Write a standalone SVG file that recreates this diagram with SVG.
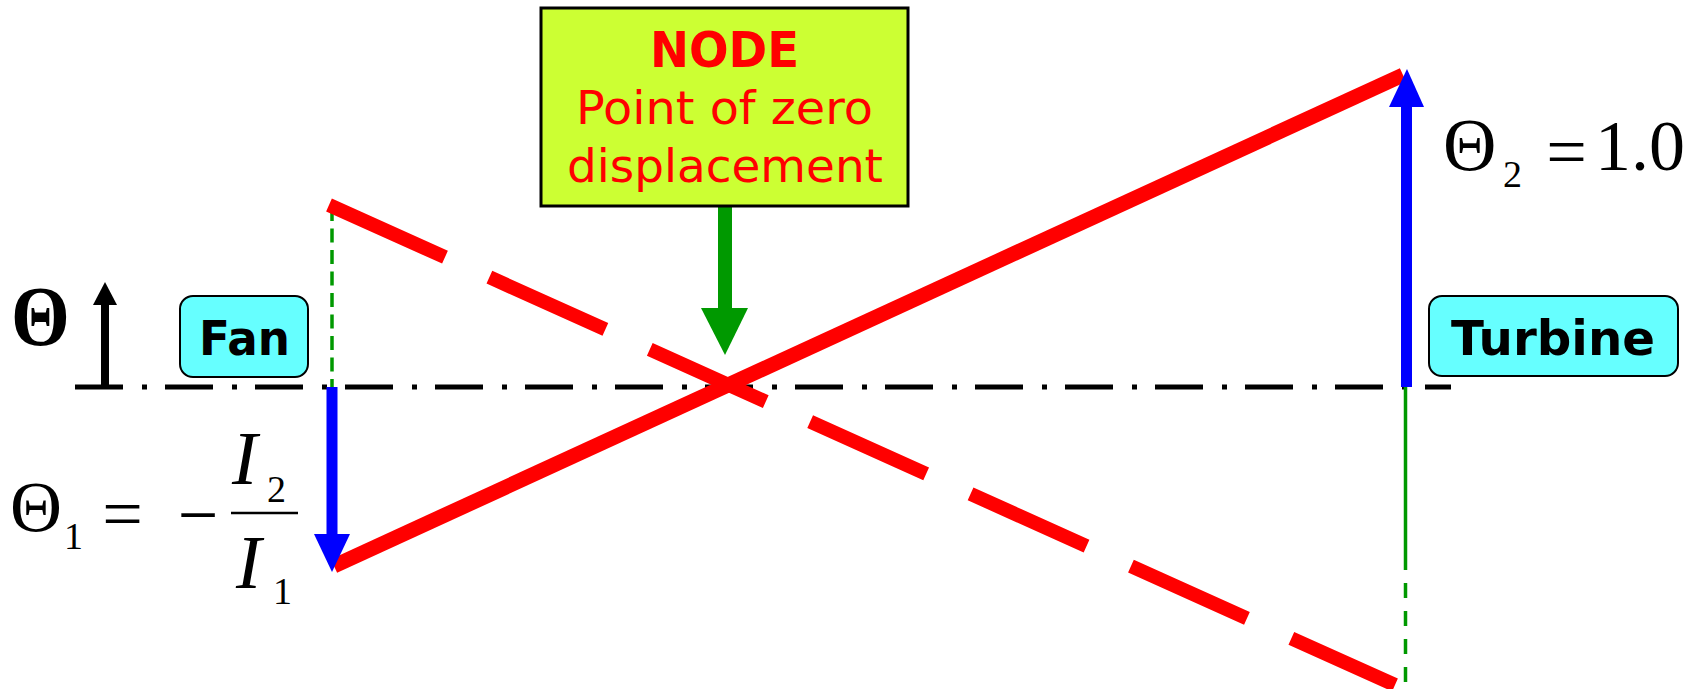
<svg xmlns="http://www.w3.org/2000/svg" width="1698" height="689" viewBox="0 0 1698 689">
  <style>
    .sans { font-family: "DejaVu Sans", Verdana, sans-serif; }
    .serif { font-family: "Liberation Serif", "Times New Roman", serif; fill: #000; }
    .label { font-weight: bold; font-size: 48px; fill: #000; }
    .tag { fill: #66ffff; stroke: #000; stroke-width: 2; }
    .red { stroke: #ff0000; fill: none; stroke-linecap: butt; }
    .guide { stroke: #009900; stroke-width: 3.5; fill: none; }
  </style>

  <rect width="1698" height="689" fill="#fff"/>

  <g id="connectors">
    <!-- shaft axis (dash-dot centre line) -->
    <line x1="75" y1="387" x2="1451" y2="387" stroke="#000" stroke-width="5" stroke-dasharray="48 19 5 18"/>

    <!-- vertical projection guides -->
    <line class="guide" x1="332" y1="207" x2="332" y2="387" stroke-dasharray="14 7.5"/>
    <line class="guide" x1="1405.5" y1="387" x2="1405.5" y2="570"/>
    <line class="guide" x1="1405.5" y1="583" x2="1405.5" y2="684" stroke-dasharray="15 13"/>

    <!-- mode shape lines -->
    <line class="red" x1="334" y1="566" x2="1403" y2="75" stroke-width="15"/>
    <line class="red" x1="329" y1="205" x2="1395" y2="685" stroke-width="14" stroke-dasharray="127.2 48.7"/>

    <!-- theta direction arrow -->
    <g id="theta-arrow" fill="#000">
      <rect x="101" y="303" width="8" height="84"/>
      <polygon points="93,305 117,305 105,282"/>
    </g>

    <!-- fan twist (down) -->
    <g id="fan-arrow" fill="#0000ff">
      <rect x="326.5" y="387" width="11" height="149"/>
      <polygon points="314,534 350,534 332,572"/>
    </g>

    <!-- turbine twist (up) -->
    <g id="turbine-arrow" fill="#0000ff">
      <rect x="1401" y="105" width="11" height="282"/>
      <polygon points="1389,107 1424,107 1407,69"/>
    </g>

    <!-- pointer to the node -->
    <g id="node-arrow" fill="#009900">
      <rect x="718" y="206" width="14" height="104"/>
      <polygon points="701,308 748,308 725,355"/>
    </g>
  </g>

  <g id="node-callout">
    <rect x="541" y="8" width="367" height="198" fill="#ccff33" stroke="#000" stroke-width="3"/>
    <text class="sans" x="724.5" y="67" text-anchor="middle" font-size="50" font-weight="bold" fill="#ff0000" textLength="149" lengthAdjust="spacingAndGlyphs">NODE</text>
    <text class="sans" x="724.5" y="124" text-anchor="middle" font-size="47" fill="#ff0000" textLength="297" lengthAdjust="spacingAndGlyphs">Point of zero</text>
    <text class="sans" x="725" y="182" text-anchor="middle" font-size="47" fill="#ff0000" textLength="316" lengthAdjust="spacingAndGlyphs">displacement</text>
  </g>

  <g id="fan">
    <rect class="tag" x="180" y="296" width="128" height="81" rx="13"/>
    <text class="sans label" x="244.5" y="355" text-anchor="middle" textLength="91" lengthAdjust="spacingAndGlyphs">Fan</text>
  </g>

  <g id="turbine">
    <rect class="tag" x="1429" y="296" width="249" height="80" rx="13"/>
    <text class="sans label" x="1553" y="355" text-anchor="middle" textLength="204" lengthAdjust="spacingAndGlyphs">Turbine</text>
  </g>

  <g id="theta-symbol">
    <text class="serif" transform="translate(11,345) scale(0.9,1)" x="0" y="0" font-size="84" font-weight="bold">Θ</text>
  </g>

  <g id="theta1-eq">
    <text class="serif" x="10" y="531" font-size="72">Θ</text>
    <text class="serif" x="64" y="549" font-size="38">1</text>
    <text class="serif" x="122.5" y="538" font-size="72" text-anchor="middle">=</text>
    <text class="serif" x="198" y="539" font-size="72" text-anchor="middle">−</text>
    <line x1="231" y1="513" x2="298" y2="513" stroke="#000" stroke-width="2.5"/>
    <text class="serif" x="232" y="484" font-size="76" font-style="italic">I</text>
    <text class="serif" x="267" y="502" font-size="38">2</text>
    <text class="serif" x="236" y="588" font-size="76" font-style="italic">I</text>
    <text class="serif" x="273" y="604" font-size="38">1</text>
  </g>

  <g id="theta2-eq">
    <text class="serif" x="1443" y="170" font-size="74">Θ</text>
    <text class="serif" x="1503" y="187" font-size="38">2</text>
    <text class="serif" x="1566.5" y="176" font-size="72" text-anchor="middle">=</text>
    <text class="serif" x="1595" y="170" font-size="72">1.0</text>
  </g>
</svg>
